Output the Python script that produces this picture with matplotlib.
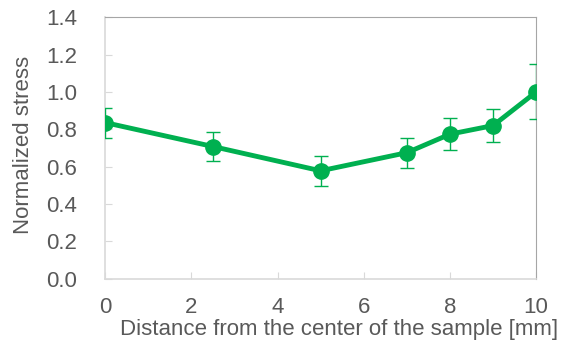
import matplotlib as mpl
import matplotlib.pyplot as plt

mpl.rcParams.update({"font.family": ["Liberation Sans", "DejaVu Sans"]})

# data
distance = [0, 2.5, 5, 7, 8, 9, 10]
stress = [0.836, 0.708, 0.578, 0.675, 0.774, 0.820, 1.0]
stress_err = [0.08, 0.08, 0.08, 0.08, 0.085, 0.09, 0.147]
xticks = [0, 2, 4, 6, 8, 10]
yticks = [0.0, 0.2, 0.4, 0.6, 0.8, 1.0, 1.2, 1.4]

GREEN = "#00B050"
GREY = "#595959"

fig = plt.figure(figsize=(5.65, 3.43), dpi=100)
ax = fig.add_axes([0.186, 0.187, 0.763, 0.763])

ax.errorbar(distance, stress, yerr=stress_err, color=GREEN, lw=3.5, marker="o", ms=11,
            ecolor=GREEN, elinewidth=1.0, capsize=5, capthick=1.0, zorder=3)

ax.set_xlim(0, 10); ax.set_ylim(0, 1.4)
ax.set_xticks(xticks); ax.set_yticks(yticks)
ax.set_yticklabels([f"{v:.1f}" for v in yticks])
ax.tick_params(direction="in", length=5, color="#D9D9D9", labelcolor=GREY, labelsize=16)
ax.tick_params(axis="x", pad=13)
ax.tick_params(axis="y", pad=20)
for s in ("left", "bottom"):
    ax.spines[s].set_color("#D9D9D9"); ax.spines[s].set_linewidth(1.2)
for s in ("top", "right"):
    ax.spines[s].set_color("#A6A6A6"); ax.spines[s].set_linewidth(0.8)

ax.set_xlabel("Distance from the center of the sample [mm]", color=GREY, fontsize=16)
ax.xaxis.set_label_coords(0.543, -0.155)
ax.set_ylabel("Normalized stress", color=GREY, fontsize=16)
ax.yaxis.set_label_coords(-0.165, 0.51)

fig.savefig("out.png", dpi=100)
